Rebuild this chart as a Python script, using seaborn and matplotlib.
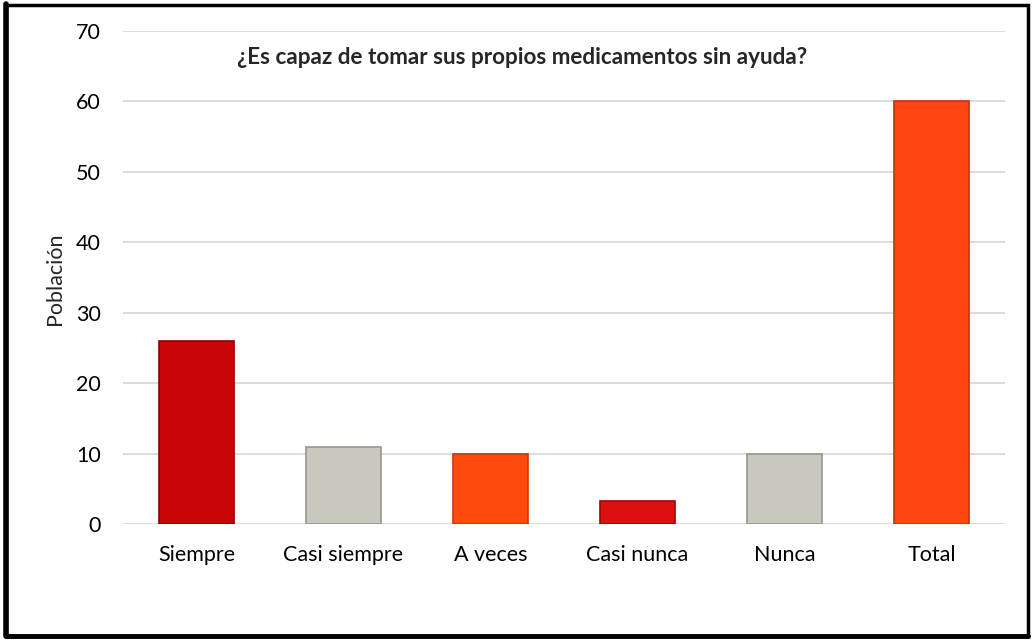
import numpy as np
import pandas as pd
import matplotlib.pyplot as plt
import seaborn as sns
from matplotlib.patches import Rectangle

categorias = ['Siempre', 'Casi siempre', 'A veces', 'Casi nunca', 'Nunca', 'Total']
poblacion = [26, 11, 10, 3.3, 10, 60]
colores = ['#C90606', '#C8C8BF', '#FF4A0E', '#DC1010', '#C8C8BF', '#FF4510']
bordes = ['#8E0303', '#97978F', '#C9360A', '#9C0606', '#97978F', '#C4330C']

df = pd.DataFrame({'categoria': categorias, 'poblacion': poblacion})

sns.set_style('white')
plt.rcParams['font.family'] = ['Lato', 'DejaVu Sans']

fig = plt.figure(figsize=(10.34, 6.4), dpi=100)
ax = fig.add_axes([123 / 1034, 1 - 524 / 640, (1005 - 123) / 1034, (524 - 31) / 640])

sns.barplot(data=df, x='categoria', y='poblacion', hue='categoria',
            palette=colores, saturation=1, width=0.51, legend=False, ax=ax, zorder=3)
for bar, ec in zip(ax.patches, bordes):
    bar.set_edgecolor(ec)
    bar.set_linewidth(1.2)

ax.set_ylim(0, 70)
ax.set_yticks(range(0, 71, 10))
ax.grid(axis='y', color='#D9D9D9', lw=1.3, zorder=0)
ax.set_axisbelow(True)
for s in ax.spines.values():
    s.set_visible(False)
ax.tick_params(axis='both', length=0, labelsize=15.5, colors='#000000')
ax.tick_params(axis='y', pad=16)
ax.tick_params(axis='x', pad=15)
ax.set_xlabel('')
ax.set_ylabel('')

fig.text(55 / 1034, 1 - 279 / 640, 'Población', rotation=90, fontsize=15.5,
         ha='center', va='center')
fig.text(522 / 1034, 1 - 57 / 640, '¿Es capaz de tomar sus propios medicamentos sin ayuda?',
         fontsize=16.2, fontweight='bold', ha='center', va='center')

# marco del grafico
fig.patches.append(Rectangle((6 / 1034, 4 / 640), 1022 / 1034, 631 / 640,
                             transform=fig.transFigure, fill=False,
                             edgecolor='black', lw=2.5))
fig.lines.append(plt.Line2D([6 / 1034, 6 / 1034], [4 / 640, 636 / 640],
                            transform=fig.transFigure, color='black', lw=4))
fig.lines.append(plt.Line2D([6 / 1034, 1028 / 1034], [4 / 640, 4 / 640],
                            transform=fig.transFigure, color='black', lw=3.5))

plt.savefig('out.png', dpi=100)
